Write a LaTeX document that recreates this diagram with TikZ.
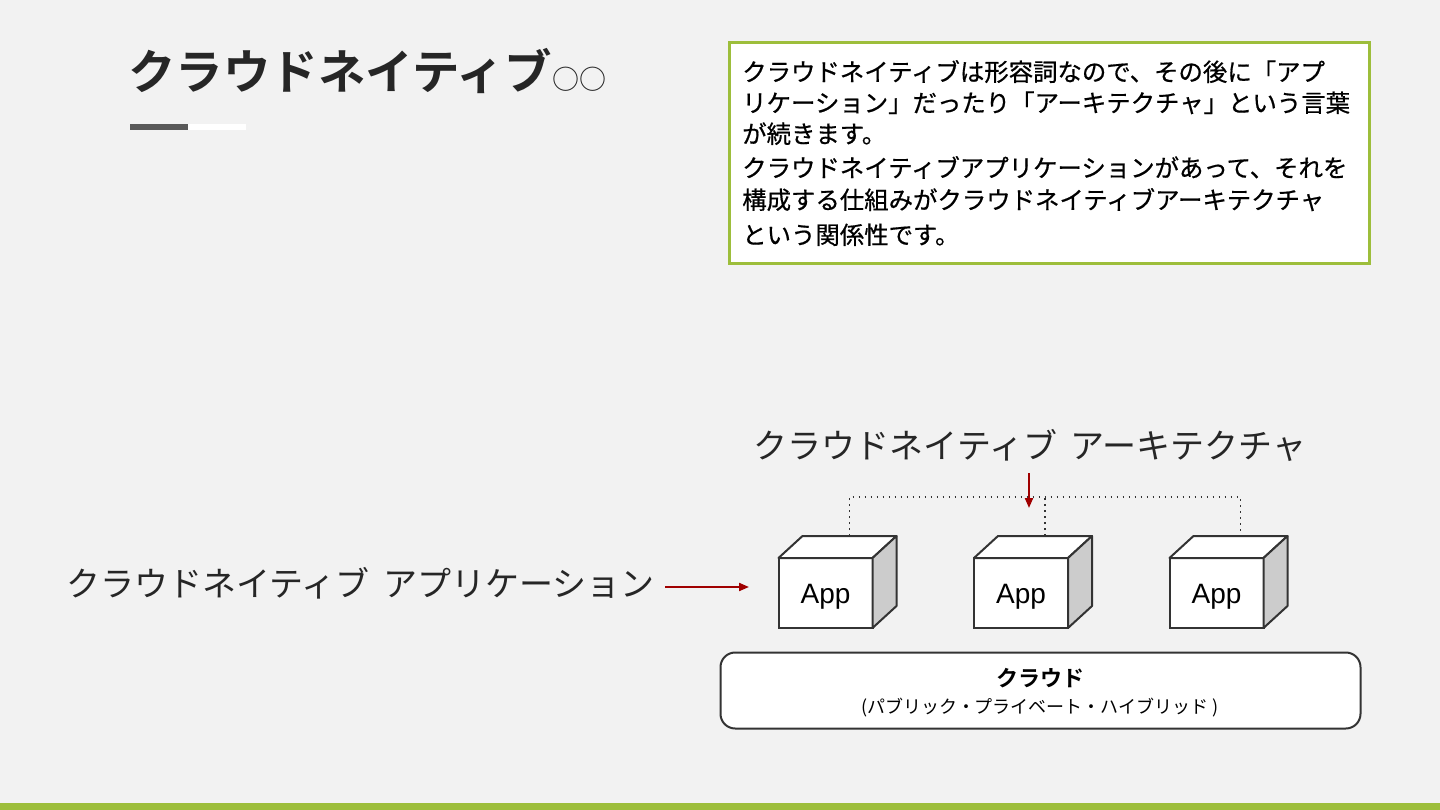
\documentclass[tikz,border=0pt]{standalone}
\usepackage{fontspec}
\setmainfont{Noto Sans CJK JP}[BoldFont={Noto Sans CJK JP Bold}]
\newfontfamily\notefont{Noto Sans CJK JP}[FakeBold=0.6]
\newfontfamily\appfont{Liberation Sans}
\usetikzlibrary{arrows.meta,calc}
\definecolor{bg}{HTML}{F2F2F2}
\definecolor{leaf}{HTML}{9DBE3B}
\definecolor{ink}{HTML}{262626}
\definecolor{darkred}{HTML}{A00000}
\definecolor{barGray}{HTML}{595959}
\definecolor{sideGray}{HTML}{CCCCCC}
\definecolor{edge}{HTML}{333333}
\tikzset{
  notetext/.style={anchor=base west, inner sep=0, text=black, font=\notefont\fontsize{18.3}{22}\selectfont},
  biglabel/.style={inner sep=0, text=ink, font=\fontsize{25.5}{30}\selectfont},
  front/.style={draw=edge, line width=1.5pt, fill=white, inner sep=0, outer sep=0,
    minimum width={94*0.75pt}, minimum height={70*0.75pt}},
  cubeface/.style={draw=edge, line width=1.5pt, line join=round},
  apptext/.style={anchor=base, inner sep=0, text=black, font=\appfont\fontsize{21}{25}\selectfont},
  dots/.style={draw=edge, line width=1.3pt, dash pattern=on 1.3pt off 3.2pt},
  redarrow/.style={draw=darkred, line width=1.5pt, -{Triangle[length=7.5pt,width=6pt]}},
}
\begin{document}
\begin{tikzpicture}[x=0.75pt, y={(0pt,-0.75pt)}]
\useasboundingbox (0,0) rectangle (1440,810);
\fill[bg] (0,0) rectangle (1440,810);
\fill[leaf] (0,803) rectangle (1440,810);

% title
\node[anchor=base west, inner sep=0, text=ink, font=\bfseries\fontsize{35.6}{40}\selectfont] (title) at (128,89) {クラウドネイティブ};
\node[anchor=base west, inner sep=0, text=ink, font=\fontsize{20.25}{24}\selectfont] (circ) at (title.base east) {○○};
\fill[barGray] (130,124) rectangle (188,130);
\fill[white] (188,124) rectangle (246,130);

% note box
\node[draw=leaf, line width=2.25pt, fill=white, anchor=north west, inner sep=0,
  minimum width={640*0.75pt}, minimum height={221*0.75pt}] (note) at (727.5,41) {};
\node[notetext] (l1) at (742,81) {クラウドネイティブは形容詞なので、その後に「アプ};
\node[notetext] (l2) at (742,112) {リケーション」だったり「アーキテクチャ」という言葉};
\node[notetext] (l3) at (742,143) {が続きます。};
\node[notetext] (l4) at (742,177) {クラウドネイティブアプリケーションがあって、それを};
\node[notetext] (l5) at (742,209) {構成する仕組みがクラウドネイティブアーキテクチャ};
\node[notetext] (l6) at (742,244) {という関係性です。};

% labels
\node[biglabel, anchor=base] (archlabel) at (1030,458) {クラウドネイティブ\hspace{0.4em}アーキテクチャ};
\node[biglabel, anchor=base west] (applabel) at (66,596) {クラウドネイティブ\hspace{0.4em}アプリケーション};

% cubes
\foreach \n/\x in {1/825.5, 2/1021, 3/1216.5}{
  \node[front] (app\n) at (\x,593) {};
  \filldraw[cubeface, fill=white] (app\n.north west) -- ++(24,-22) -- ++(94,0) -- (app\n.north east) -- cycle;
  \filldraw[cubeface, fill=sideGray] (app\n.north east) -- ++(24,-22) -- ++(0,70) -- (app\n.south east) -- cycle;
  \node[apptext] (app\n text) at (\x,603) {App};
  \coordinate (top\n) at ($(app\n.north)+(24,-22)$);
}
\coordinate (bus) at (0,497);
\draw[dots] (top1) -- (top1 |- bus) -- (top3 |- bus) -- (top3);
\draw[dots] (top2) -- (top2 |- bus);

% arrows
\coordinate (tipA) at (749,587);
\draw[redarrow, shorten <=8pt] (applabel.east |- tipA) -- (tipA);
\coordinate (tipB) at (1029,508);
\draw[redarrow, shorten <=9pt] (archlabel.south -| tipB) -- (tipB);

% cloud
\node[draw=edge, line width=1.5pt, fill=white, rounded corners=11pt, inner sep=0,
  minimum width={640*0.75pt}, minimum height={76*0.75pt}] (cloud) at (1040.5,690.5) {};
\node[anchor=base, inner sep=0, text=black, font=\bfseries\fontsize{16.5}{20}\selectfont] (cloudtitle) at (1040,686) {クラウド};
\node[anchor=base, inner sep=0, text=black, font=\fontsize{13.5}{16}\selectfont] (cloudsub) at (1040,713) {(パブリック・プライベート・ハイブリッド )};
\end{tikzpicture}
\end{document}
